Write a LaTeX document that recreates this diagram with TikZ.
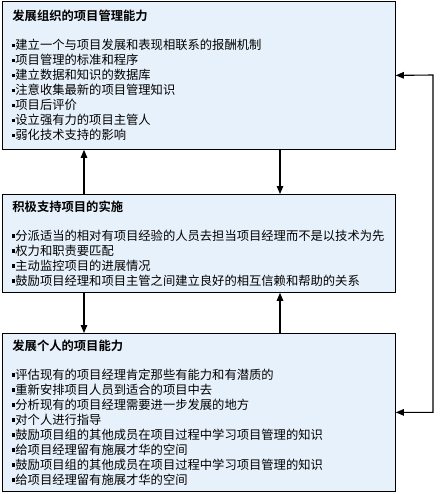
\documentclass[tikz,border=0pt]{standalone}
\usepackage{fontspec}
\setmainfont{Noto Sans CJK SC}[BoldFont={Noto Sans CJK SC Bold}]
\usepackage{tikz}
\usetikzlibrary{arrows.meta}
\definecolor{boxblue}{HTML}{E7F1FB}
\newcommand{\itm}{\rule[2.5pt]{3pt}{3.5pt}}

\begin{document}
\begin{tikzpicture}[x=1pt,y=-1pt,
        box/.style={draw, line width=0.8pt, fill=boxblue, anchor=north west, minimum width=393pt, text width=373pt, inner xsep=10pt, align=left, font=\fontsize{12.3}{15}\selectfont},
        link/.style={line width=1.1pt, -{Triangle[length=8pt,width=6.5pt]}}]
    \useasboundingbox (0,0) rectangle (440,494);
    \node[box, minimum height=148pt] (org) at (2,1) {\textbf{发展组织的项目管理能力}\\[14pt]
        \itm 建立一个与项目发展和表现相联系的报酬机制\\ \itm 项目管理的标准和程序\\ \itm 建立数据和知识的数据库\\ \itm 注意收集最新的项目管理知识\\
        \itm 项目后评价\\ \itm 设立强有力的项目主管人\\ \itm 弱化技术支持的影响};
    \node[box, minimum height=98pt] (act) at (2,194) {\textbf{积极支持项目的实施}\\[14pt]
        \itm 分派适当的相对有项目经验的人员去担当项目经理而不是以技术为先\\ \itm 权力和职责要匹配\\ \itm 主动监控项目的进展情况\\
        \itm 鼓励项目经理和项目主管之间建立良好的相互信赖和帮助的关系};
    \node[box, minimum height=158pt] (pers) at (2,333) {\textbf{发展个人的项目能力}\\[14pt]
        \itm 评估现有的项目经理肯定那些有能力和有潜质的\\ \itm 重新安排项目人员到适合的项目中去\\ \itm 分析现有的项目经理需要进一步发展的地方\\ \itm 对个人进行指导\\
        \itm 鼓励项目组的其他成员在项目过程中学习项目管理的知识\\ \itm 给项目经理留有施展才华的空间\\
        \itm 鼓励项目组的其他成员在项目过程中学习项目管理的知识\\ \itm 给项目经理留有施展才华的空间};

    \coordinate (lx) at (84,0); \coordinate (rx) at (280,0); \coordinate (fb) at (433,75);
    \draw[link] (act.north -| lx) -- (org.south -| lx); \draw[link] (org.south -| rx) -- (act.north -| rx);
    \draw[link] (act.south -| lx) -- (pers.north -| lx); \draw[link] (pers.north -| rx) -- (act.south -| rx);
    \draw[link, {Triangle[length=8pt,width=6.5pt]}-{Triangle[length=8pt,width=6.5pt]}] (pers.east) -| (fb) -- (org.east);
\end{tikzpicture}
\end{document}
